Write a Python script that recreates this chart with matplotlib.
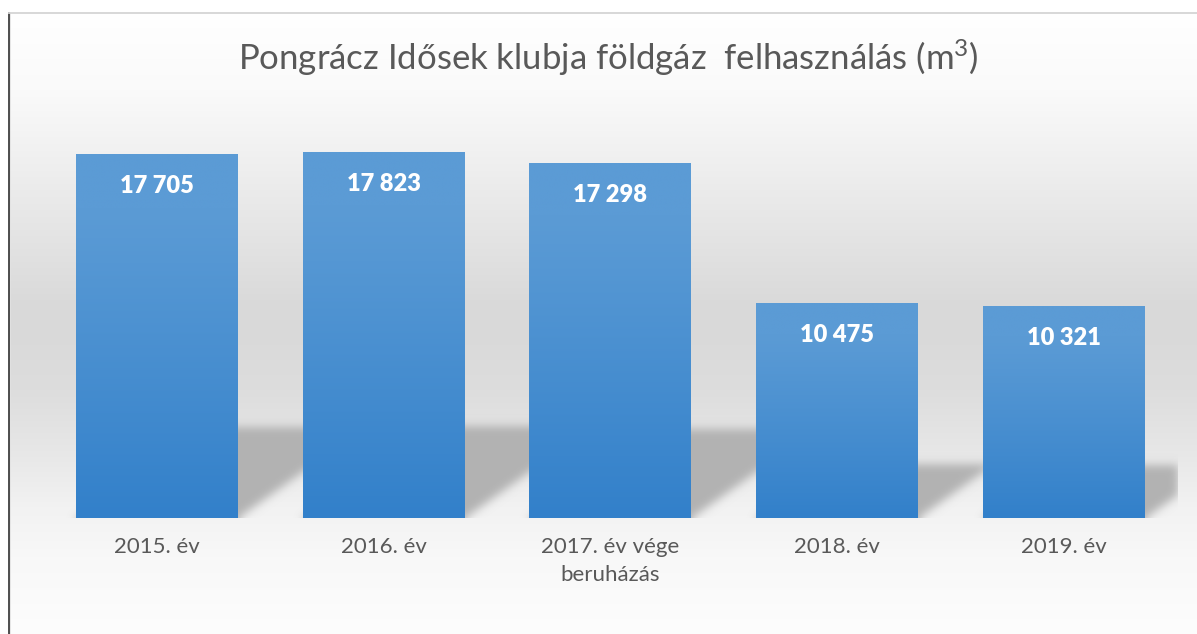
import numpy as np
import matplotlib
matplotlib.use('Agg')
import matplotlib.pyplot as plt
from matplotlib.lines import Line2D
from matplotlib.patches import Rectangle

plt.rcParams['font.family'] = ['Lato', 'DejaVu Sans']
plt.rcParams['mathtext.fontset'] = 'custom'
plt.rcParams['mathtext.rm'] = 'Lato'
plt.rcParams['mathtext.it'] = 'Lato'

# data
categories = ['2015. év', '2016. év', '2017. év vége\nberuházás', '2018. év', '2019. év']
values = [17705, 17823, 17298, 10475, 10321]
title = 'Pongrácz Idősek klubja földgáz  felhasználás (m$^{\\mathrm{3}}$)'

W_PX, H_PX = 1197, 634
fig = plt.figure(figsize=(W_PX / 100, H_PX / 100), dpi=100)

# background gradient (grey band in the middle, white top/bottom)
stops_y = [0, 12, 90, 157, 223, 300, 330, 390, 457, 507, 557, 634]
stops_g = [255, 255, 250, 240, 230, 218, 217, 221, 232, 242, 248, 253]
rows = np.interp(np.arange(H_PX), stops_y, stops_g) / 255.
bg = np.repeat(rows[:, None], 3, axis=1)[:, None, :]
bgax = fig.add_axes([0, 0, 1, 1], zorder=-5)
bgax.imshow(bg, extent=(0, 1, 0, 1), aspect='auto', interpolation='bilinear')
bgax.set_xlim(0, 1)
bgax.set_ylim(0, 1)
bgax.axis('off')
# outside chart area is white
bx = 8.5 / W_PX
by = 1 - 12.5 / H_PX
bgax.add_patch(Rectangle((0, 0), bx, 1, color='white', lw=0))
bgax.add_patch(Rectangle((0, by), 1, 1 - by, color='white', lw=0))
bgax.add_line(Line2D([bx + 1.6 / W_PX] * 2, [0, by], color='#e2e2e2', lw=1.2))
bgax.add_line(Line2D([bx, bx], [0, by], color='#404040', lw=1.3))
bgax.add_line(Line2D([bx, 1], [by, by], color='#d4d4d4', lw=1.3))

# main axes
ax_l, ax_b, ax_w, ax_h = 43.5, 116, 1133.5, 411
ax = fig.add_axes([ax_l / W_PX, ax_b / H_PX, ax_w / W_PX, ax_h / H_PX])
ax.patch.set_alpha(0)
ymax = 20000
bw = 0.714
ax.set_xlim(-0.5, len(values) - 0.5)
ax.set_ylim(0, ymax)

# perspective shadows behind bars
Wg, Hg = int(ax_w), int(ax_h)
ppu = Wg / len(values)
X, Y = np.meshgrid(np.arange(Wg) + 0.5, np.arange(Hg) + 0.5)
mask = np.zeros((Hg, Wg))
k = 1.4
for i, v in enumerate(values):
    x0 = (i + 0.5 - bw / 2) * ppu
    x1 = (i + 0.5 + bw / 2) * ppu
    s = 0.25 * v / ymax * Hg
    m = (Y <= s) & (X >= x0 + k * Y) & (X <= x1 + k * Y)
    mask[m] = 1.0

sig = 4.5
kx = np.arange(-15, 16)
kern = np.exp(-kx ** 2 / (2 * sig ** 2))
kern /= kern.sum()
pad = 20
mp = np.vstack([np.repeat(mask[:1], pad, axis=0), mask])
mp = np.apply_along_axis(lambda r: np.convolve(r, kern, mode='same'), 1, mp)
mp = np.apply_along_axis(lambda c: np.convolve(c, kern, mode='same'), 0, mp)
mask = mp[pad:]
shadow = np.zeros((Hg, Wg, 4))
shadow[..., :3] = 0.70
shadow[..., 3] = np.clip(mask, 0, 1)
ax.imshow(shadow, origin='lower', extent=(-0.5, len(values) - 0.5, 0, ymax),
          aspect='auto', interpolation='bilinear', zorder=1)

# bars with vertical gradient
top_c = np.array([91, 155, 213]) / 255.
bot_c = np.array([50, 128, 202]) / 255.
bars = ax.bar(range(len(values)), values, width=bw, color='#4a8fd2', lw=0, zorder=2)
t = np.linspace(0, 1, 200)
tt = np.clip((t - 0.15) / 0.85, 0, 1) ** 1.1
grad = (top_c[None, :] + (bot_c - top_c)[None, :] * tt[:, None])[:, None, :]
for b in bars:
    im = ax.imshow(grad, extent=(b.get_x(), b.get_x() + b.get_width(), 0, b.get_height()),
                   aspect='auto', interpolation='bilinear', zorder=3)
    im.set_clip_path(b)

for i, v in enumerate(values):
    ax.annotate(f'{v:,}'.replace(',', ' '), xy=(i, v), xytext=(0, -32),
                textcoords='offset pixels', ha='center', va='center',
                color='white', fontsize=17, fontweight='heavy', zorder=4)

ax.set_ylim(0, ymax)
ax.set_xlim(-0.5, len(values) - 0.5)
ax.set_xticks(range(len(values)))
ax.set_xticklabels(categories, fontsize=16, color='#595959', linespacing=1.45)
ax.tick_params(axis='x', length=0, pad=14)
ax.set_yticks([])
for sp in ax.spines.values():
    sp.set_visible(False)

fig.text(608 / W_PX, 1 - 58 / H_PX, title, ha='center', va='center',
         fontsize=25, color='#595959')

fig.savefig('out.png', dpi=100)
